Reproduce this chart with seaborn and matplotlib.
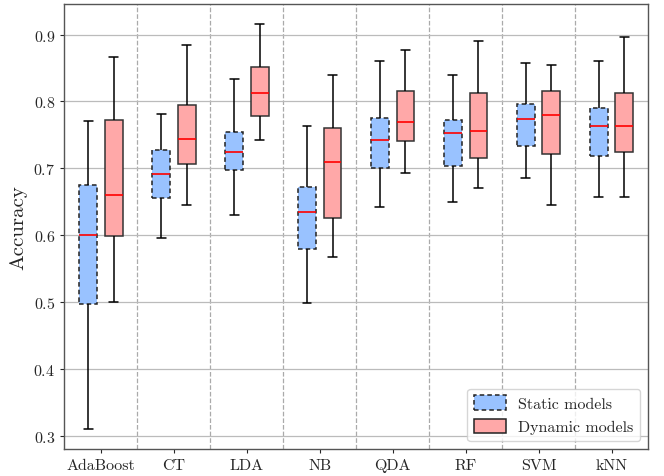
import numpy as np
import pandas as pd
import matplotlib
matplotlib.use("Agg")
import matplotlib.pyplot as plt
import seaborn as sns
from matplotlib.patches import Patch

categories = ["AdaBoost", "CT", "LDA", "NB", "QDA", "RF", "SVM", "kNN"]
groups = ["Static models", "Dynamic models"]

# five-number summaries [lower whisker, Q1, median, Q3, upper whisker]
static_stats = [
    [0.311, 0.497, 0.601, 0.675, 0.771],
    [0.596, 0.656, 0.692, 0.728, 0.781],
    [0.631, 0.697, 0.725, 0.755, 0.833],
    [0.499, 0.580, 0.635, 0.672, 0.763],
    [0.642, 0.700, 0.743, 0.776, 0.861],
    [0.650, 0.704, 0.753, 0.772, 0.840],
    [0.686, 0.734, 0.774, 0.796, 0.858],
    [0.657, 0.719, 0.763, 0.790, 0.860],
]
dynamic_stats = [
    [0.501, 0.599, 0.660, 0.772, 0.866],
    [0.646, 0.706, 0.744, 0.795, 0.885],
    [0.743, 0.779, 0.813, 0.851, 0.916],
    [0.567, 0.626, 0.709, 0.760, 0.840],
    [0.693, 0.741, 0.769, 0.816, 0.877],
    [0.670, 0.716, 0.756, 0.813, 0.891],
    [0.646, 0.722, 0.780, 0.816, 0.854],
    [0.658, 0.725, 0.764, 0.813, 0.897],
]

static_color = "#99c2ff"
dynamic_color = "#ffa8a8"

rows = []
for cat, s, d in zip(categories, static_stats, dynamic_stats):
    for v in s:
        rows.append((cat, groups[0], v))
    for v in d:
        rows.append((cat, groups[1], v))
df = pd.DataFrame(rows, columns=["model", "type", "acc"])

sns.set_style("white")
plt.rcParams["font.family"] = ["cmr10", "DejaVu Serif"]
plt.rcParams["axes.formatter.use_mathtext"] = True
plt.rcParams["mathtext.fontset"] = "cm"

fig, ax = plt.subplots(figsize=(6.64, 4.77), dpi=100)

sns.boxplot(
    data=df, x="model", y="acc", hue="type", order=categories, hue_order=groups,
    palette={groups[0]: static_color, groups[1]: dynamic_color},
    saturation=1, width=0.7, gap=0.3, whis=(0, 100), showfliers=False,
    linecolor="#222222", linewidth=1.1,
    medianprops=dict(color="red", linewidth=1.2),
    whiskerprops=dict(color="black"), capprops=dict(color="black"),
    legend=False, ax=ax, zorder=3,
)

for p in ax.patches:
    fc = p.get_facecolor()
    if fc[2] > fc[0]:
        p.set_linestyle((0, (3, 2)))
        p.set_edgecolor("#222222")
    else:
        p.set_edgecolor("#333333")

ax.set_xlim(-0.5, len(categories) - 0.5)
ax.set_ylim(0.281, 0.946)
ax.set_yticks([0.3, 0.4, 0.5, 0.6, 0.7, 0.8, 0.9])
ax.yaxis.grid(True, color="#bbbbbb", linewidth=0.9, zorder=0)
for i in range(len(categories) - 1):
    ax.axvline(i + 0.5, color="#aaaaaa", linestyle="--", linewidth=0.9, zorder=0)
ax.set_axisbelow(True)

ax.set_xlabel("")
ax.set_ylabel("Accuracy", fontsize=15)
ax.tick_params(axis="both", labelsize=11.5, length=3, direction="out", left=True, bottom=True)
for s in ax.spines.values():
    s.set_color("#555555")
    s.set_linewidth(1.0)

handles = [
    Patch(facecolor=static_color, edgecolor="#222222", linestyle=(0, (3, 2)), linewidth=1.1, label=groups[0]),
    Patch(facecolor=dynamic_color, edgecolor="#222222", linewidth=1.1, label=groups[1]),
]
ax.legend(handles=handles, loc="lower right", fontsize=11.5, frameon=True, fancybox=True,
          framealpha=0.8, edgecolor="#cccccc", handlelength=2.0, handleheight=1.0)

fig.subplots_adjust(left=0.097, right=0.976, top=0.99, bottom=0.057)
fig.savefig("out.png", dpi=100)
